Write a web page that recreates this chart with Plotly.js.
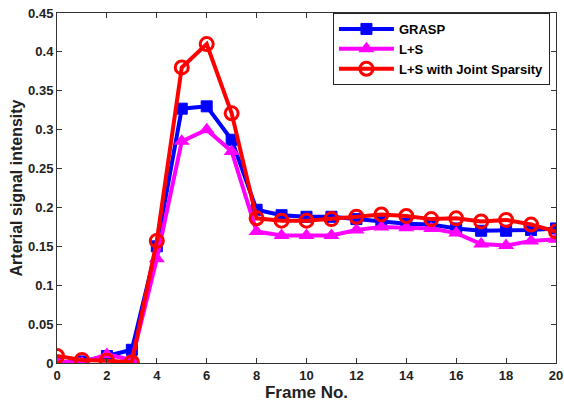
<!DOCTYPE html>
<html>
<head>
<meta charset="utf-8">
<script src="https://cdn.plot.ly/plotly-3.0.1.min.js"></script>
<style>html,body{margin:0;padding:0;background:#fff}#chart{width:564px;height:405px}</style>
</head>
<body>
<div id="chart"></div>
<script>
const frames = [0,1,2,3,4,5,6,7,8,9,10,11,12,13,14,15,16,17,18,19,20];
const grasp = [0.000,0.002,0.009,0.017,0.150,0.327,0.330,0.287,0.197,0.190,0.188,0.188,0.185,0.182,0.179,0.178,0.173,0.170,0.170,0.171,0.173];
const ls = [0.002,0.000,0.011,0.004,0.134,0.285,0.300,0.272,0.169,0.164,0.164,0.164,0.171,0.175,0.174,0.173,0.167,0.153,0.151,0.157,0.159];
const lsjs = [0.009,0.004,0.003,0.001,0.157,0.380,0.410,0.321,0.186,0.183,0.183,0.185,0.188,0.191,0.189,0.185,0.186,0.182,0.184,0.178,0.169];
const names = ["GRASP","L+S","L+S with Joint Sparsity"];
const yTicks = [0,0.05,0.1,0.15,0.2,0.25,0.3,0.35,0.4,0.45];
const yTickText = ["0","0.05","0.1","0.15","0.2","0.25","0.3","0.35","0.4","0.45"];
const xTicks = [0,2,4,6,8,10,12,14,16,18,20];

const font = "Liberation Sans, Arial, sans-serif";
const traces = [
  {x: frames, y: grasp, name: names[0], mode: "lines+markers",
   line: {color: "#0000ff", width: 4},
   marker: {symbol: "square", size: 11, color: "#0000ff", line: {color: "#0000ff", width: 1}}},
  {x: frames, y: ls, name: names[1], mode: "lines+markers",
   line: {color: "#ff00ff", width: 4},
   marker: {symbol: "triangle-up", size: 14, color: "#ff00ff"}},
  {x: frames, y: lsjs, name: names[2], mode: "lines+markers",
   line: {color: "#ff0000", width: 4},
   marker: {symbol: "circle-open", size: 13, color: "#ff0000", line: {color: "#ff0000", width: 3}}}
];
const axisCommon = {showgrid: false, zeroline: false, showline: true, linecolor: "#333", linewidth: 1,
  mirror: "allticks", ticks: "inside", ticklen: 5, tickcolor: "#333",
  tickfont: {family: font, size: 13, color: "#222", weight: "bold"}};
const layout = {
  width: 564, height: 405,
  margin: {l: 57, r: 8, t: 13, b: 42},
  paper_bgcolor: "#fff", plot_bgcolor: "#fff",
  showlegend: true,
  legend: {x: 0.553, y: 1, xanchor: "left", yanchor: "top", bordercolor: "#222", borderwidth: 1,
    bgcolor: "#fff", itemwidth: 55, tracegroupgap: 0,
    font: {family: font, size: 13, color: "#000", weight: "bold"}},
  xaxis: Object.assign({}, axisCommon, {range: [0, 20], tickvals: xTicks,
    title: {text: "Frame No.", font: {family: font, size: 17, color: "#222", weight: "bold"}, standoff: 4}}),
  yaxis: Object.assign({}, axisCommon, {range: [0, 0.45], tickvals: yTicks, ticktext: yTickText,
    title: {text: "Arterial signal intensity", font: {family: font, size: 16, color: "#222", weight: "bold"}, standoff: 1}})
};
Plotly.newPlot("chart", traces, layout, {displayModeBar: false, staticPlot: true});
</script>
</body>
</html>
